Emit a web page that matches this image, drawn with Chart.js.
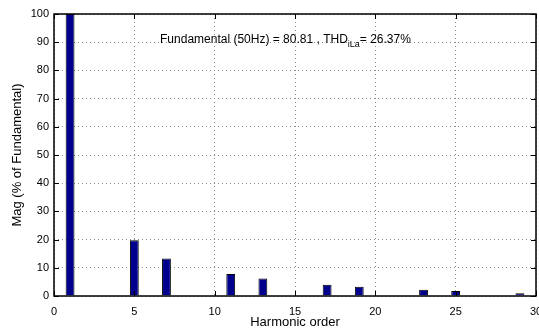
<!DOCTYPE html>
<html>
<head>
<meta charset="utf-8">
<script src="https://cdn.jsdelivr.net/npm/chart.js@4.4.0/dist/chart.umd.min.js"></script>
<style>
  html, body { margin: 0; padding: 0; background: #fff; }
  #wrap { width: 539px; height: 330px; position: relative; }
</style>
</head>
<body>
<div id="wrap"><canvas id="fft"></canvas></div>
<script>
// harmonic spectrum, % of fundamental
const orders = [1, 2, 3, 4, 5, 6, 7, 8, 9, 10, 11, 12, 13, 14, 15,
                16, 17, 18, 19, 20, 21, 22, 23, 24, 25, 26, 27, 28, 29, 30]
const mags   = [100, 0, 0.2, 0, 19.8, 0, 13.3, 0, 0.2, 0, 7.8, 0, 6.2, 0, 0.2,
                0, 4.0, 0, 3.3, 0, 0.2, 0, 2.2, 0, 1.8, 0, 0.2, 0, 1.0, 0]
const xTicks = [0, 5, 10, 15, 20, 25, 30]
const yTicks = [0, 10, 20, 30, 40, 50, 60, 70, 80, 90, 100]
const fundamental = '80.81'
const thd = '26.37'

const FONT = '"Liberation Sans", Arial, Helvetica, sans-serif'

// MATLAB style box: top/right edges and inward tick marks
const boxTicks = {
    id: 'boxTicks',
    afterDatasetsDraw(chart) {
        const ctx = chart.ctx, a = chart.chartArea
        const xs = chart.scales.x, ys = chart.scales.y
        const len = 5
        ctx.save()
        ctx.strokeStyle = '#000'
        ctx.lineWidth = 1
        ctx.beginPath()
        xTicks.forEach(v => {
            const px = Math.round(xs.getPixelForValue(v)) + 0.5
            ctx.moveTo(px, a.bottom); ctx.lineTo(px, a.bottom - len)
            ctx.moveTo(px, a.top); ctx.lineTo(px, a.top + len)
        })
        yTicks.forEach(v => {
            const py = Math.round(ys.getPixelForValue(v)) + 0.5
            ctx.moveTo(a.left, py); ctx.lineTo(a.left + len, py)
            ctx.moveTo(a.right, py); ctx.lineTo(a.right - len, py)
        })
        ctx.stroke()
        ctx.lineWidth = 1.5
        ctx.strokeRect(a.left, a.top, a.right - a.left, a.bottom - a.top)
        ctx.restore()
    }
}

// text annotation placed in data coordinates
const note = {
    id: 'note',
    afterDraw(chart) {
        const ctx = chart.ctx
        let x = chart.scales.x.getPixelForValue(6.6)
        const y = chart.scales.y.getPixelForValue(89.6)
        ctx.save()
        ctx.fillStyle = '#000'
        ctx.textBaseline = 'alphabetic'
        ctx.font = '12px ' + FONT
        let s = 'Fundamental (50Hz) = ' + fundamental + ' , THD'
        ctx.fillText(s, x, y)
        x += ctx.measureText(s).width
        ctx.font = '9px ' + FONT
        ctx.fillText('iLa', x, y + 4)
        x += ctx.measureText('iLa').width
        ctx.font = '12px ' + FONT
        ctx.fillText('= ' + thd + '%', x, y)
        ctx.restore()
    }
}

new Chart(document.getElementById('fft'), {
    type: 'bar',
    data: {
        datasets: [{
            data: orders.map((o, i) => ({x: o, y: mags[i]})),
            backgroundColor: '#00008c',
            borderColor: '#000',
            borderWidth: 1,
            barPercentage: 1,
            categoryPercentage: 0.55
        }]
    },
    options: {
        responsive: true,
        maintainAspectRatio: false,
        animation: false,
        layout: { padding: { top: 14, right: 3, left: 0, bottom: 0 } },
        plugins: { legend: { display: false }, tooltip: { enabled: false } },
        scales: {
            x: {
                type: 'linear',
                min: 0, max: 30,
                offset: false,
                afterBuildTicks: s => { s.ticks = xTicks.map(v => ({value: v})) },
                afterFit: s => { s.height = 34; s.paddingLeft = 0; s.paddingRight = 0 },
                grid: { color: '#8c8c8c', drawTicks: false, lineWidth: 1, offset: false },
                border: { display: false, dash: [1, 3] },
                ticks: { color: '#000', font: { family: FONT, size: 11 }, padding: 9, maxRotation: 0 },
                title: { display: true, text: 'Harmonic order', color: '#000',
                         font: { family: FONT, size: 13 }, padding: { top: 0, bottom: 0 } }
            },
            y: {
                min: 0, max: 100,
                afterBuildTicks: s => { s.ticks = yTicks.map(v => ({value: v})) },
                afterFit: s => { s.width = 54; s.paddingTop = 0; s.paddingBottom = 0 },
                grid: { color: '#8c8c8c', drawTicks: false, lineWidth: 1 },
                border: { display: false, dash: [1, 3] },
                ticks: { color: '#000', font: { family: FONT, size: 11 }, padding: 5 },
                title: { display: true, text: 'Mag (% of Fundamental)', color: '#000',
                         font: { family: FONT, size: 13 }, padding: { top: 10, bottom: 0 } }
            }
        }
    },
    plugins: [boxTicks, note]
})
</script>
</body>
</html>
